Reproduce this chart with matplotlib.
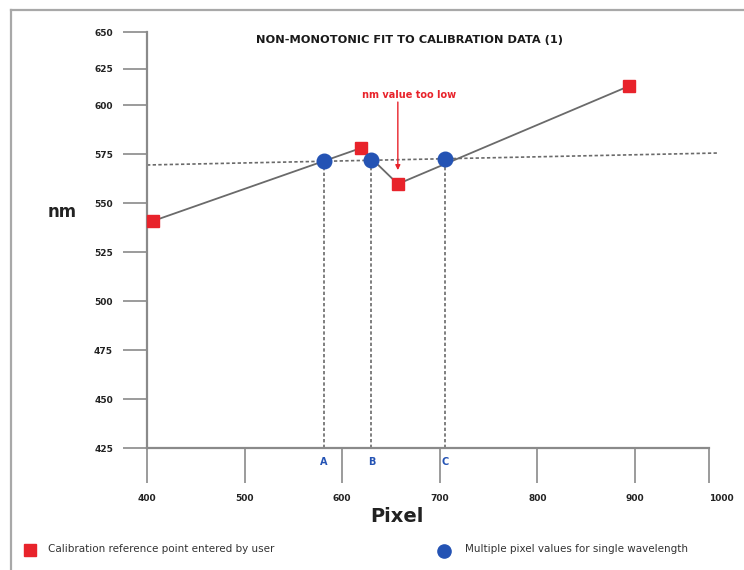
import numpy as np
import matplotlib
matplotlib.use("Agg")
import matplotlib.pyplot as plt
from matplotlib.lines import Line2D
from matplotlib import font_manager as fm
from matplotlib.transforms import ScaledTranslation

# ---------------- data ----------------
ref_pixel = [406, 619, 657, 894]          # red squares (calibration points)
ref_nm = [540.8, 578.0, 559.7, 613.0]
multi_pixel = [581, 630, 705]             # blue circles
multi_nm = [571.3, 571.8, 572.6]
multi_labels = ["A", "B", "C"]
level_pixel = [400, 1011]                 # dashed "single wavelength" line
level_nm = [569.4, 575.5]
x_ticks = [400, 500, 600, 700, 800, 900, 1000]
y_ticks = [425, 450, 475, 500, 525, 550, 575, 600, 625, 650]
title = "NON-MONOTONIC FIT TO CALIBRATION DATA (1)"
note = "nm value too low"
legend_red = "Calibration reference point entered by user"
legend_blue = "Multiple pixel values for single wavelength"

# ---------------- fonts ----------------
names = {f.name for f in fm.fontManager.ttflist}
narrow = "Liberation Sans Narrow" if "Liberation Sans Narrow" in names else (
    "DejaVu Sans Condensed" if "DejaVu Sans Condensed" in names else "DejaVu Sans")
plt.rcParams["font.family"] = [narrow, "DejaVu Sans"]

RED = "#e8232b"
BLUE = "#2453b4"
GRAY = "#8a8a8a"
LINE = "#6a6a6a"

W, H = 744, 570
fig = plt.figure(figsize=(W / 100, H / 100), dpi=100)

def px(x, y):
    return x / W, 1 - y / H

# axes: x 400->147px, 1000->709px ; y 425->448px, 650->32px
l, b = px(147, 448)
r, t = px(709, 32)
ax = fig.add_axes([l, b, r - l, t - b])

# piecewise scales (upper end compressed as in the reference)
def fx(x):
    x = np.asarray(x, dtype=float)
    return np.where(x <= 900, x, 900 + (x - 900) * 0.758)
def ix(x):
    x = np.asarray(x, dtype=float)
    return np.where(x <= 900, x, 900 + (x - 900) / 0.758)
def fy(y):
    y = np.asarray(y, dtype=float)
    return np.where(y <= 600, y, 600 + (y - 600) * 0.745)
def iy(y):
    y = np.asarray(y, dtype=float)
    return np.where(y <= 600, y, 600 + (y - 600) / 0.745)

ax.set_xscale("function", functions=(fx, ix))
ax.set_yscale("function", functions=(fy, iy))
ax.set_xlim(400, 1000)
ax.set_ylim(425, 650)

for s in ["top", "right"]:
    ax.spines[s].set_visible(False)
for s in ["left", "bottom"]:
    ax.spines[s].set_color(GRAY)
    ax.spines[s].set_linewidth(1.6)

ax.set_xticks(x_ticks)
ax.set_yticks(y_ticks)
ax.set_xticklabels([str(v) for v in x_ticks])
ax.set_yticklabels([str(v) for v in y_ticks])
ax.tick_params(axis="x", direction="out", length=25, width=1.2, color=GRAY,
               pad=8, labelsize=6.5, labelcolor="#222222")
ax.tick_params(axis="y", direction="out", length=17.5, width=1.2, color=GRAY,
               pad=7, labelsize=6.5, labelcolor="#222222")
for lab in ax.get_xticklabels() + ax.get_yticklabels():
    lab.set_fontweight("bold")
last = ax.get_xticklabels()[-1]
last.set_transform(last.get_transform() +
                   ScaledTranslation(12 / 100, 0, fig.dpi_scale_trans))

# dashed single-wavelength line
ax.plot(level_pixel, level_nm, ls=(0, (2.0, 1.4)), color=LINE, lw=1.2,
        clip_on=False, zorder=2)
# vertical dashed drops
for xp, yp in zip(multi_pixel, multi_nm):
    ax.plot([xp, xp], [425, yp], ls=(0, (2.0, 1.4)), color=LINE, lw=1.2,
            zorder=2)

# fitted polyline through reference points
ax.plot(ref_pixel, ref_nm, color=LINE, lw=1.3, zorder=3)

ax.plot(ref_pixel, ref_nm, ls="none", marker="s", ms=9, color=RED,
        mec=RED, zorder=5, clip_on=False)
ax.plot(multi_pixel, multi_nm, ls="none", marker="o", ms=10.5, color=BLUE,
        mec=BLUE, zorder=5)

# A, B, C labels
for xp, lab in zip(multi_pixel, multi_labels):
    ax.annotate(lab, xy=(xp, 425), xytext=(0, -10), textcoords="offset points",
                ha="center", va="center", color=BLUE, fontsize=7,
                fontweight="bold")

# note + arrow to the too-low point
nx, ny = ref_pixel[2], ref_nm[2]
ax.annotate("", xy=(nx, ny), xycoords="data",
            xytext=(0, 59), textcoords="offset points",
            arrowprops=dict(arrowstyle="-|>", color=RED, lw=1.0,
                            mutation_scale=7, shrinkA=0, shrinkB=10))
ax.annotate(note, xy=(nx, ny), xytext=(8, 64), textcoords="offset points",
            ha="center", va="center", color=RED, fontsize=7,
            fontweight="bold")

# titles / axis labels
fig.text(*px(410, 40), title, ha="center", va="center", fontsize=8.2,
         fontweight="bold", color="#1a1a1a")
fig.text(*px(62, 212), "nm", ha="center", va="center", fontsize=12,
         fontweight="bold", color="#222222")
fig.text(*px(397, 517), "Pixel", ha="center", va="center", fontsize=14,
         fontweight="bold", color="#222222")

# legend row
fig.add_artist(Line2D([30 / W], [1 - 550 / H], marker="s", ms=9, color=RED,
                      ls="none"))
fig.text(*px(48, 549), legend_red, ha="left", va="center", fontsize=7.5,
         color="#333333")
fig.add_artist(Line2D([444 / W], [1 - 551 / H], marker="o", ms=9.5,
                      color=BLUE, ls="none"))
fig.text(*px(465, 549), legend_blue, ha="left", va="center", fontsize=7.5,
         color="#333333")

# outer frame (left + top)
fig.add_artist(Line2D([11 / W, 11 / W], [0, 1 - 10 / H], color="#a8a8a8",
                      lw=1.6))
fig.add_artist(Line2D([11 / W, 1], [1 - 10 / H, 1 - 10 / H],
                      color="#a8a8a8", lw=1.6))

fig.savefig("out.png", dpi=100)
